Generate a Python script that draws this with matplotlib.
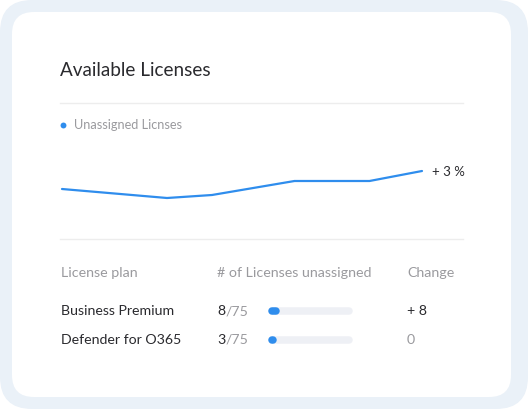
"""Available Licenses card: trend line plus a small license table."""

import matplotlib

matplotlib.use("Agg")
import matplotlib.pyplot as plt
from matplotlib.patches import FancyBboxPatch

W, H, DPI = 528, 409, 100

# trend of unassigned licenses (day index, value)
days = [0, 14, 20, 31, 41, 48]
unassigned = [11, 2, 5, 19, 19, 29]
trend_label = "+ 3 %"
legend_label = "Unassigned Licnses"

# table
headers = ["License plan", "# of Licenses unassigned", "Change"]
plans = ["Business Premium", "Defender for O365"]
used = [8, 3]
total = 75
changes = ["+ 8", "0"]

BLUE = "#2f8ded"
DARK = "#2a2a2e"
GRAY = "#9a9a9e"
TRACK = "#eef0f5"
FRAME = "#eaf1f8"
RULE = "#ededed"

plt.rcParams["font.family"] = ["Lato", "DejaVu Sans"]


def px_axes(fig, x0, y0, x1, y1):
    """Axes placed by pixel box (top-left origin)."""
    return fig.add_axes([x0 / W, 1 - y1 / H, (x1 - x0) / W, (y1 - y0) / H])


fig = plt.figure(figsize=(W / DPI, H / DPI), dpi=DPI)
fig.patch.set_facecolor("white")

bg = px_axes(fig, 0, 0, W, H)
bg.set_xlim(0, W)
bg.set_ylim(H, 0)
bg.axis("off")

bg.add_patch(FancyBboxPatch((32, 32), W - 64, H - 64, boxstyle="round,pad=32",
                            fc=FRAME, ec="none"))
bg.add_patch(FancyBboxPatch((34, 34), 511 - 12 - 44, 397 - 12 - 44, boxstyle="round,pad=22",
                            fc="white", ec="none"))

bg.text(60, 70, "Available Licenses", fontsize=13.6, color=DARK, va="center", ha="left")
bg.plot([60, 463], [103, 103], color=RULE, lw=1)
bg.plot([60, 463], [239, 239], color=RULE, lw=1)

bg.scatter([62.5], [124.5], s=18, color=BLUE, lw=0)
bg.text(74, 125, legend_label, fontsize=9.2, color=GRAY, va="center", ha="left")

# line chart
line_ax = px_axes(fig, 62, 140, 422, 230)
line_ax.set_xlim(days[0], days[-1])
line_ax.set_ylim(-30, 60)
line_ax.axis("off")
line_ax.plot(days, unassigned, color=BLUE, lw=1.6, solid_capstyle="round", clip_on=False)
line_ax.annotate(trend_label, (days[-1], unassigned[-1]), xytext=(7, -1),
                 textcoords="offset points", fontsize=9.5, color=DARK, va="center", ha="left")

# table
col_x = [61, 217, 407]
for x, h in zip(col_x, headers):
    bg.text(x, 273, h, fontsize=10.3, color=GRAY, va="center", ha="left")

row_y0, row_dy = 311, 29
for i, (plan, n, ch) in enumerate(zip(plans, used, changes)):
    y = row_y0 + row_dy * i
    bg.text(col_x[0], y, plan, fontsize=10.2, color=DARK, va="center", ha="left")
    t = bg.text(col_x[1], y, str(n), fontsize=10.2, color=DARK, va="center", ha="left")
    bg.annotate(f"/{total}", xy=(1, 0), xycoords=t, fontsize=10.2, color=GRAY,
                va="bottom", ha="left")
    bg.text(col_x[2], y, ch, fontsize=10.2, color=DARK if ch != "0" else GRAY,
            va="center", ha="left")

bar_ax = px_axes(fig, 271.5, row_y0 - row_dy / 2, 348.5, row_y0 + row_dy * 1.5)
bar_ax.set_xlim(0, total)
bar_ax.set_ylim(len(plans) - 0.5, -0.5)
bar_ax.axis("off")
for i, n in enumerate(used):
    bar_ax.plot([0, total], [i, i], color=TRACK, lw=5.4, solid_capstyle="round", clip_on=False)
    bar_ax.plot([0, n * 0.6], [i, i], color=BLUE, lw=5.4, solid_capstyle="round", clip_on=False)

fig.savefig("out.png", dpi=DPI, facecolor="white")
